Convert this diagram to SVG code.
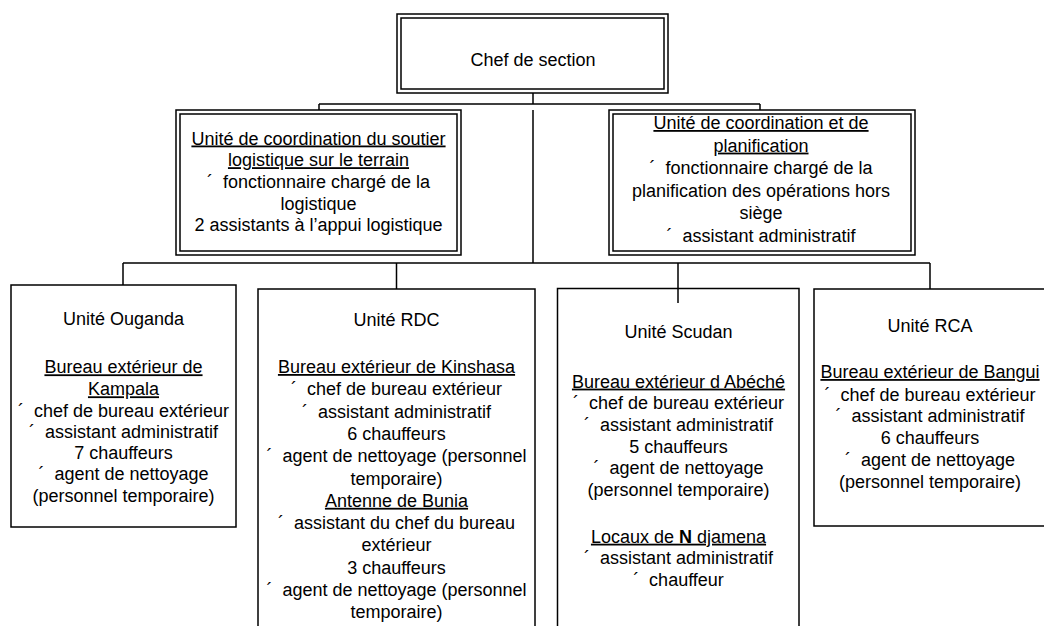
<svg xmlns="http://www.w3.org/2000/svg" width="1044" height="626" viewBox="0 0 1044 626">
<style>
.box{fill:#fff;stroke:#000;stroke-width:1.5}
.ln{fill:none;stroke:#000;stroke-width:1.5}
text{font-family:"Liberation Sans",Arial,sans-serif;font-size:18px;fill:#000;text-anchor:middle}
.u{text-decoration:underline}
</style>
<rect width="1044" height="626" fill="#fff"/>
<g id="connectors">
<path class="ln" d="M533 93V104M319 104H760M319 104V110M760 104V110"/>
<path class="ln" d="M533 110V263M123 263H930M123 263V285M396.5 263V289M678 263V303M930 263V289"/>
</g>
<g id="chef">
<rect class="box" x="397" y="14" width="271" height="79"/>
<rect class="box" x="401" y="18" width="263" height="71"/>
<text x="533" y="66">Chef de section</text>
</g>
<g id="soutien">
<rect class="box" x="176" y="110" width="285" height="145"/>
<rect class="box" x="180" y="114" width="277" height="137"/>
<text x="318.5" y="144.5" class="u">Unité de coordination du soutier</text>
<text x="318.5" y="166.2" class="u">logistique sur le terrain</text>
<text x="318.5" y="187.9">´&#160; fonctionnaire chargé de la</text>
<text x="318.5" y="209.6">logistique</text>
<text x="318.5" y="231.3">2 assistants à l’appui logistique</text>
</g>
<g id="planification">
<rect class="box" x="609" y="110" width="306" height="145"/>
<rect class="box" x="613" y="114" width="298" height="137"/>
<text x="761" y="129" class="u">Unité de coordination et de</text>
<text x="761" y="151.6" class="u">planification</text>
<text x="761" y="174.2">´&#160; fonctionnaire chargé de la</text>
<text x="761" y="196.8">planification des opérations hors</text>
<text x="761" y="219.4">siège</text>
<text x="761" y="242">´&#160; assistant administratif</text>
</g>
<g id="ouganda">
<rect class="box" x="11" y="285" width="225" height="242"/>
<text x="123.5" y="325">Unité Ouganda</text>
<text x="123.5" y="373.3" class="u">Bureau extérieur de</text>
<text x="123.5" y="395.3" class="u">Kampala</text>
<text x="123.5" y="416.7">´&#160; chef de bureau extérieur</text>
<text x="123.5" y="437.7">´&#160; assistant administratif</text>
<text x="123.5" y="458.7">7 chauffeurs</text>
<text x="123.5" y="480">´&#160; agent de nettoyage</text>
<text x="123.5" y="502">(personnel temporaire)</text>
</g>
<g id="rdc">
<rect class="box" x="258" y="289" width="277" height="345"/>
<text x="396.5" y="326">Unité RDC</text>
<text x="396.5" y="373" class="u">Bureau extérieur de Kinshasa</text>
<text x="396.5" y="395.3">´&#160; chef de bureau extérieur</text>
<text x="396.5" y="417.6">´&#160; assistant administratif</text>
<text x="396.5" y="439.9">6 chauffeurs</text>
<text x="396.5" y="462.2">´&#160; agent de nettoyage (personnel</text>
<text x="396.5" y="484.5">temporaire)</text>
<text x="396.5" y="506.8" class="u">Antenne de Bunia</text>
<text x="396.5" y="529.1">´&#160; assistant du chef du bureau</text>
<text x="396.5" y="551.4">extérieur</text>
<text x="396.5" y="573.7">3 chauffeurs</text>
<text x="396.5" y="596">´&#160; agent de nettoyage (personnel</text>
<text x="396.5" y="618.3">temporaire)</text>
</g>
<g id="soudan">
<rect class="box" x="557.5" y="288.5" width="241.5" height="345"/>
<path class="ln" d="M678 288.5V303"/>
<text x="678.5" y="337.7">Unité Scudan</text>
<text x="678.5" y="387.6" class="u">Bureau extérieur d Abéché</text>
<text x="678.5" y="409.3">´&#160; chef de bureau extérieur</text>
<text x="678.5" y="431">´&#160; assistant administratif</text>
<text x="678.5" y="452.7">5 chauffeurs</text>
<text x="678.5" y="474.3">´&#160; agent de nettoyage</text>
<text x="678.5" y="496">(personnel temporaire)</text>
<text x="678.5" y="542.7" class="u">Locaux de <tspan font-weight="bold">N</tspan> djamena</text>
<text x="678.5" y="564.3">´&#160; assistant administratif</text>
<text x="678.5" y="586">´&#160; chauffeur</text>
</g>
<g id="rca">
<rect class="box" x="814" y="289" width="240" height="237"/>
<text x="930" y="331.7">Unité RCA</text>
<text x="930" y="378" class="u">Bureau extérieur de Bangui</text>
<text x="930" y="400.7">´&#160; chef de bureau extérieur</text>
<text x="930" y="422.4">´&#160; assistant administratif</text>
<text x="930" y="444">6 chauffeurs</text>
<text x="930" y="465.8">´&#160; agent de nettoyage</text>
<text x="930" y="487.5">(personnel temporaire)</text>
</g>
</svg>
